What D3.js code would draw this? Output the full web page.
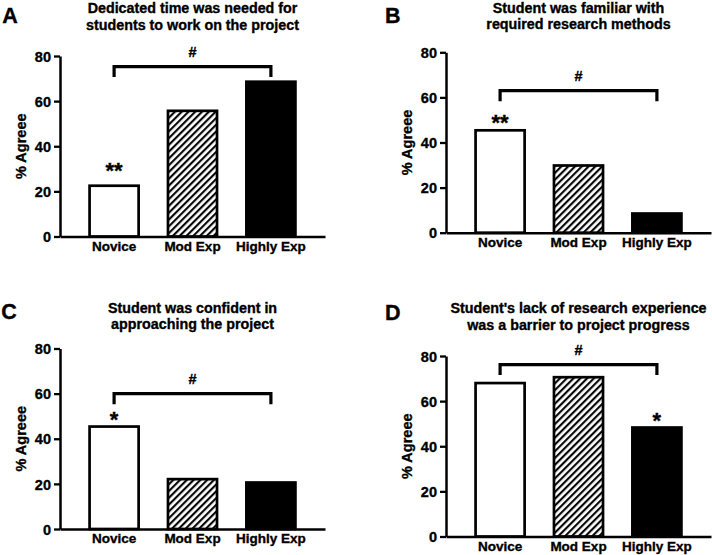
<!DOCTYPE html>
<html>
<head>
<meta charset="utf-8">
<script src="https://cdn.jsdelivr.net/npm/d3@7/dist/d3.min.js"></script>
<style>
  html, body { margin: 0; padding: 0; background: #fff; }
  svg { display: block; font-family: "Liberation Sans", Arial, Helvetica, sans-serif; }
  text { font-weight: bold; fill: #000; stroke: #000; stroke-width: 0.35px; }
</style>
</head>
<body>
<svg id="chart" width="712" height="555"></svg>
<script>
// ---------------- data ----------------
const categories = ["Novice", "Mod Exp", "Highly Exp"];
const panelLetters = ["A", "B", "C", "D"];
const panelTitles = [
  ["Dedicated time was needed for", "students to work on the project"],
  ["Student was familiar with", "required research methods"],
  ["Student was confident in", "approaching the project"],
  ["Student's lack of research experience", "was a barrier to project progress"]
];
const valuesA = [23.1, 56.3, 69.2];
const valuesB = [46.0, 30.4, 9.1];
const valuesC = [46.0, 22.7, 21.2];
const valuesD = [68.6, 71.2, 48.9];
const yTickValues = [0, 20, 40, 60, 80];
const yLabel = "% Agreee";
const bracketFrom = ["Novice", "Novice", "Novice", "Novice"];
const bracketTo = ["Highly Exp", "Highly Exp", "Highly Exp", "Highly Exp"];
const bracketLevels = [75.3, 63.0, 60.0, 76.2];
const bracketLabels = ["#", "#", "#", "#"];
const starLabels = ["**", "**", "*", "*"];
const starCategory = ["Novice", "Novice", "Novice", "Highly Exp"];
const starLevels = [31.4, 51.1, 50.6, 53.7];

const allValues = [valuesA, valuesB, valuesC, valuesD];

// ---------------- layout ----------------
const frames = [
  { x0: 60,  x1: 325, yTop: 56,    yBot: 236.5, t1: 12.8, t2: 29.5, lx: 2.2,   ly: 23.3 },
  { x0: 446, x1: 711, yTop: 52.3,  yBot: 232.7, t1: 12.8, t2: 29.0, lx: 385.0, ly: 22.7 },
  { x0: 60,  x1: 325, yTop: 348.5, yBot: 529,   t1: 312.5, t2: 329, lx: 1.2,   ly: 318.7 },
  { x0: 446, x1: 711, yTop: 356,   yBot: 536.5, t1: 312.5, t2: 329.7, lx: 385.0, ly: 320.3 }
];

const FONT = '"Liberation Sans", Arial, sans-serif';
const svg = d3.select("#chart");
const defs = svg.append("defs");
const P = 4.8;
const pat = defs.append("pattern")
  .attr("id", "hatch")
  .attr("patternUnits", "userSpaceOnUse")
  .attr("width", P).attr("height", P)
  .attr("patternTransform", "rotate(45)");
pat.append("rect").attr("width", P).attr("height", P).attr("fill", "#fff");
pat.append("line").attr("x1", 1.1).attr("y1", 0).attr("x2", 1.1).attr("y2", P)
  .attr("stroke", "#000").attr("stroke-width", 2.1);

const fills = ["#fff", "url(#hatch)", "#000"];

frames.forEach((f, i) => {
  const g = svg.append("g");
  const x = d3.scaleBand().domain(categories).range([f.x0, f.x1]).paddingInner(0.34).paddingOuter(0.36);
  const y = d3.scaleLinear().domain([0, 80]).range([f.yBot, f.yTop]);
  const vals = allValues[i];

  // bars
  const sw = 2.7;
  g.selectAll("rect.bar").data(categories).enter().append("rect")
    .attr("class", "bar")
    .attr("x", d => x(d) + sw / 2)
    .attr("width", x.bandwidth() - sw)
    .attr("y", (d, j) => y(vals[j]) + sw / 2)
    .attr("height", (d, j) => Math.max(0, y(0) - y(vals[j]) - sw / 2))
    .attr("fill", (d, j) => fills[j])
    .attr("stroke", "#000")
    .attr("stroke-width", sw);

  // y axis
  const ya = g.append("g")
    .attr("transform", `translate(${f.x0},0)`)
    .call(d3.axisLeft(y).tickValues(yTickValues).tickSize(6).tickSizeOuter(0).tickPadding(3));
  ya.select(".domain").attr("stroke-width", 2.5);
  ya.selectAll(".tick line").attr("stroke-width", 2.3);
  ya.selectAll(".tick text").style("font-size", "14.5px").style("font-weight", "bold")
    .style("font-family", FONT).attr("fill", "#000").attr("dy", "0.36em");

  // x axis
  const xa = g.append("g")
    .attr("transform", `translate(0,${f.yBot})`)
    .call(d3.axisBottom(x).tickSize(0).tickPadding(4.5).tickSizeOuter(0));
  xa.select(".domain").attr("stroke-width", 2.5);
  xa.selectAll(".tick text").style("font-size", "13.5px").style("font-weight", "bold")
    .style("font-family", FONT).attr("fill", "#000");

  // y label
  g.append("text")
    .attr("transform", `translate(${f.x0 - 34},${(f.yTop + f.yBot) / 2}) rotate(-90)`)
    .attr("text-anchor", "middle")
    .style("font-size", "14.5px")
    .text(yLabel);

  // title
  const cx = (f.x0 + f.x1) / 2;
  g.append("text").attr("x", cx).attr("y", f.t1).attr("text-anchor", "middle")
    .style("font-size", "14.3px").text(panelTitles[i][0]);
  g.append("text").attr("x", cx).attr("y", f.t2).attr("text-anchor", "middle")
    .style("font-size", "14.3px").text(panelTitles[i][1]);

  // letter
  g.append("text").attr("x", f.lx).attr("y", f.ly)
    .style("font-size", "21.5px").text(panelLetters[i]);

  // bracket
  const bx1 = x(bracketFrom[i]) + x.bandwidth() / 2;
  const bx2 = x(bracketTo[i]) + x.bandwidth() / 2;
  const by = y(bracketLevels[i]);
  g.append("path")
    .attr("d", `M${bx1},${by + 10.5}V${by}H${bx2}V${by + 10.5}`)
    .attr("fill", "none").attr("stroke", "#000").attr("stroke-width", 3.2);
  g.append("text").attr("x", (bx1 + bx2) / 2).attr("y", by - 9.3)
    .attr("text-anchor", "middle").style("font-size", "14.5px").text(bracketLabels[i]);

  // stars
  g.append("text")
    .attr("x", x(starCategory[i]) + x.bandwidth() / 2)
    .attr("y", y(starLevels[i]) + 12.5)
    .attr("text-anchor", "middle")
    .style("font-size", "22px")
    .text(starLabels[i]);
});
</script>
</body>
</html>
